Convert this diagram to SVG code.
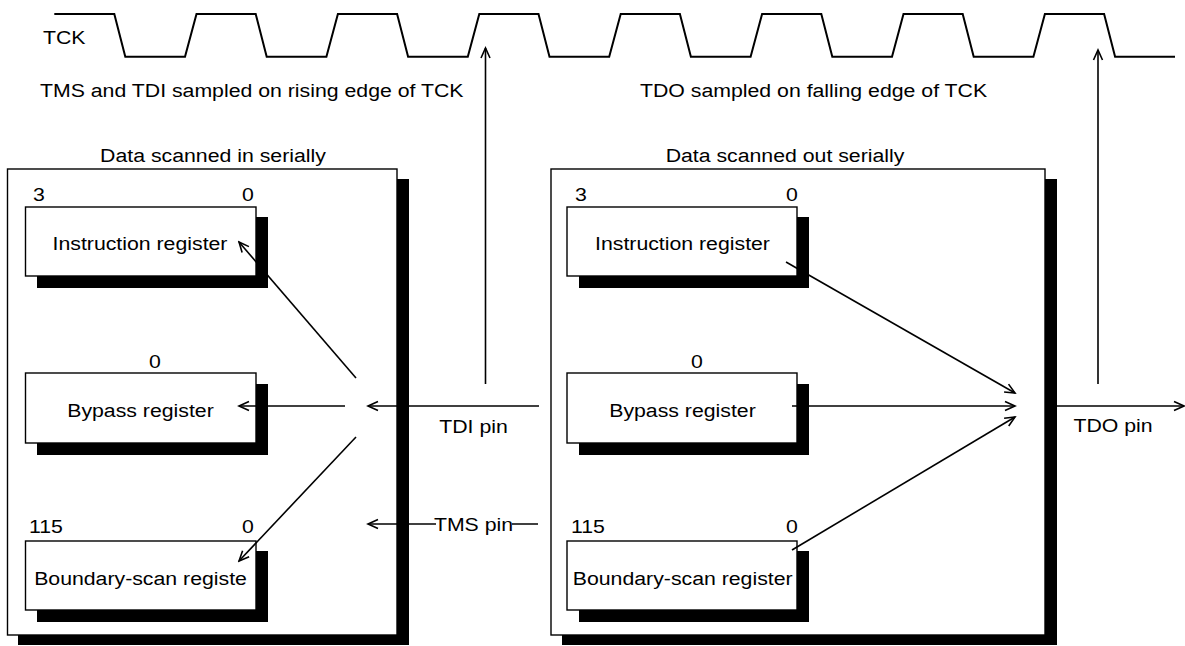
<svg xmlns="http://www.w3.org/2000/svg" width="1185" height="646" viewBox="0 0 1185 646">
<style>
text{font-family:"Liberation Sans",Arial,sans-serif;font-size:19px;fill:#000}
.m{text-anchor:middle}
.box{fill:#fff;stroke:#000;stroke-width:1.4}
.sh{fill:#000;stroke:none}
.wire{fill:none;stroke:#000;stroke-width:1.6}
.wave{fill:none;stroke:#000;stroke-width:2;stroke-linejoin:miter}
</style>
<defs>
<marker id="ah" markerUnits="userSpaceOnUse" viewBox="-12 -6 14 12" refX="0" refY="0" markerWidth="14" markerHeight="12" orient="auto">
<path d="M-10,-4.5 L0,0 L-10,4.5" fill="none" stroke="#000" stroke-width="1.6"/>
</marker>
</defs>

<g id="tck">
<path class="wave" d="M54.3,14 H114.3 L125.3,56.7 H185 L196.5,14 H255.7 L266.7,56.7 H326.4 L337.9,14 H397.1 L408.1,56.7 H467.8 L479.3,14 H538.5 L549.5,56.7 H609.2 L620.7,14 H679.9 L690.9,56.7 H750.6 L762.1,14 H821.3 L832.3,56.7 H892 L903.5,14 H962.7 L973.7,56.7 H1033.4 L1044.9,14 H1104.1 L1115.1,56.7 H1175"/>
<text transform="translate(43,44) scale(1.12,1)">TCK</text>
</g>

<g id="captions">
<text transform="translate(40,97) scale(1.12,1)">TMS and TDI sampled on rising edge of TCK</text>
<text transform="translate(640,97) scale(1.12,1)">TDO sampled on falling edge of TCK</text>
</g>

<g id="left-device">
<rect class="sh" x="18" y="179" width="391" height="466"/>
<rect class="box" x="7.5" y="169" width="389.5" height="466"/>
<text class="m" transform="translate(213,162) scale(1.12,1)">Data scanned in serially</text>
</g>

<g id="right-device">
<rect class="sh" x="562" y="179" width="495" height="466"/>
<rect class="box" x="551" y="169" width="494" height="466"/>
<text class="m" transform="translate(785,162) scale(1.12,1)">Data scanned out serially</text>
</g>

<g id="left-ir">
<rect class="sh" x="37" y="217" width="231" height="71"/>
<rect class="box" x="25.5" y="207" width="230.5" height="69"/>
<text class="m" transform="translate(39,201) scale(1.12,1)">3</text>
<text class="m" transform="translate(248,201) scale(1.12,1)">0</text>
<text class="m" transform="translate(140,250) scale(1.12,1)">Instruction register</text>
</g>

<g id="left-bypass">
<rect class="sh" x="37" y="384" width="231" height="71"/>
<rect class="box" x="25.5" y="373" width="230.5" height="70"/>
<text class="m" transform="translate(155,368) scale(1.12,1)">0</text>
<text class="m" transform="translate(140.5,417) scale(1.12,1)">Bypass register</text>
</g>

<g id="left-bsr">
<rect class="sh" x="37" y="551" width="231" height="71"/>
<rect class="box" x="25.5" y="541" width="230.5" height="69"/>
<text transform="translate(29,533) scale(1.12,1)">115</text>
<text class="m" transform="translate(248,533) scale(1.12,1)">0</text>
<text class="m" transform="translate(140.5,585) scale(1.12,1)">Boundary-scan registe</text>
</g>

<g id="right-ir">
<rect class="sh" x="579" y="217" width="230" height="71"/>
<rect class="box" x="567" y="207" width="230" height="69"/>
<text class="m" transform="translate(581,201) scale(1.12,1)">3</text>
<text class="m" transform="translate(792,201) scale(1.12,1)">0</text>
<text class="m" transform="translate(682.5,250) scale(1.12,1)">Instruction register</text>
</g>

<g id="right-bypass">
<rect class="sh" x="579" y="384" width="230" height="71"/>
<rect class="box" x="567" y="373" width="230" height="70"/>
<text class="m" transform="translate(697,368) scale(1.12,1)">0</text>
<text class="m" transform="translate(682.5,417) scale(1.12,1)">Bypass register</text>
</g>

<g id="right-bsr">
<rect class="sh" x="579" y="551" width="230" height="71"/>
<rect class="box" x="567" y="541" width="230" height="69"/>
<text transform="translate(571,533) scale(1.12,1)">115</text>
<text class="m" transform="translate(792,533) scale(1.12,1)">0</text>
<text class="m" transform="translate(682.7,585) scale(1.12,1)">Boundary-scan register</text>
</g>

<g id="connectors">
<line class="wire" x1="356" y1="378" x2="239" y2="242" marker-end="url(#ah)"/>
<line class="wire" x1="345" y1="406" x2="239" y2="406" marker-end="url(#ah)"/>
<line class="wire" x1="356" y1="437" x2="239" y2="561" marker-end="url(#ah)"/>
<line class="wire" x1="539" y1="406" x2="368" y2="406" marker-end="url(#ah)"/>
<line class="wire" x1="538" y1="524" x2="368" y2="524" marker-end="url(#ah)"/>
<line class="wire" x1="485.5" y1="384" x2="485.5" y2="48" marker-end="url(#ah)"/>
<line class="wire" x1="786" y1="262" x2="1015" y2="393" marker-end="url(#ah)"/>
<line class="wire" x1="792" y1="406" x2="1015" y2="406" marker-end="url(#ah)"/>
<line class="wire" x1="792" y1="550" x2="1015" y2="417" marker-end="url(#ah)"/>
<line class="wire" x1="1057" y1="406" x2="1184" y2="406" marker-end="url(#ah)"/>
<line class="wire" x1="1098" y1="384" x2="1098" y2="50" marker-end="url(#ah)"/>
</g>

<g id="pins">
<text class="m" transform="translate(473.5,433) scale(1.12,1)">TDI pin</text>
<rect x="436" y="512" width="76" height="24" fill="#fff"/>
<text class="m" transform="translate(473.5,531) scale(1.12,1)">TMS pin</text>
<text class="m" transform="translate(1113,432) scale(1.12,1)">TDO pin</text>
</g>
</svg>
